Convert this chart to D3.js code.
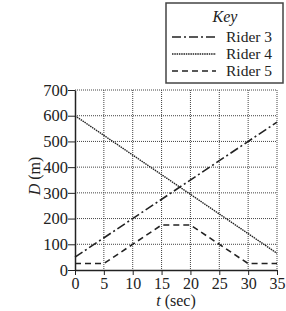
<!DOCTYPE html>
<html>
<head>
<meta charset="utf-8">
<script src="https://cdn.jsdelivr.net/npm/d3@7"></script>
<style>
  body { margin: 0; background: #fff; }
  svg text { font-family: "Liberation Serif", "DejaVu Serif", serif; fill: #222; }
  .axis path, .axis line { stroke: #222; }
  .grid line { stroke: #444; stroke-dasharray: 1,1; stroke-width: 1; }
</style>
</head>
<body>
<div id="chart"></div>
<script>
// rider positions, t in sec, D in m
var rider3 = [[0, 50], [35, 575]];
var rider4 = [[0, 600], [35, 65]];
var rider5 = [[0, 25], [5, 25], [15, 175], [20, 175], [30, 25], [35, 25]];
var xTicks = [0, 5, 10, 15, 20, 25, 30, 35];
var yTicks = [0, 100, 200, 300, 400, 500, 600, 700];
var keyNames = ["Rider 3", "Rider 4", "Rider 5"];

var W = 286, H = 311;
var margin = {top: 90, right: 9, bottom: 41, left: 75};
var w = W - margin.left - margin.right,
    h = H - margin.top - margin.bottom;

var svg = d3.select("#chart").append("svg")
    .attr("width", W)
    .attr("height", H);

var g = svg.append("g").attr("transform", "translate(" + margin.left + "," + margin.top + ")");

var x = d3.scaleLinear().domain([0, 35]).range([0, w]);
var y = d3.scaleLinear().domain([0, 700]).range([h, 0]);

// dotted grid
var grid = g.append("g").attr("class", "grid");
grid.selectAll("line.v").data(xTicks.slice(1)).enter().append("line")
    .attr("class", "v")
    .attr("x1", d => x(d)).attr("x2", d => x(d))
    .attr("y1", 0).attr("y2", h);
grid.selectAll("line.h").data(yTicks.slice(1)).enter().append("line")
    .attr("class", "h")
    .attr("x1", 0).attr("x2", w)
    .attr("y1", d => y(d)).attr("y2", d => y(d));

g.append("g")
    .attr("class", "axis")
    .attr("transform", "translate(0," + h + ")")
    .call(d3.axisBottom(x).tickValues(xTicks).tickSize(5).tickSizeOuter(0).tickPadding(3))
    .call(s => s.selectAll("text").attr("font-size", 16))
    .call(s => s.select(".domain").attr("stroke-width", 1.5));

g.append("g")
    .attr("class", "axis")
    .call(d3.axisLeft(y).tickValues(yTicks).tickSize(7).tickSizeOuter(0).tickPadding(0))
    .call(s => s.selectAll("text").attr("font-size", 16.5))
    .call(s => s.select(".domain").attr("stroke-width", 1.5));

var line = d3.line().x(d => x(d[0])).y(d => y(d[1]));

var styles = [
  {data: rider3, dash: "9,3,2,3", width: 1.6},
  {data: rider4, dash: "1.5,0.8", width: 1.4},
  {data: rider5, dash: "6,4", width: 1.6}
];

g.selectAll("path.rider").data(styles).enter().append("path")
    .attr("class", "rider")
    .attr("d", d => line(d.data))
    .attr("fill", "none")
    .attr("stroke", "#222")
    .attr("stroke-width", d => d.width)
    .attr("stroke-dasharray", d => d.dash);

// axis titles
svg.append("text")
    .attr("transform", "translate(40,176) rotate(-90)")
    .attr("text-anchor", "middle")
    .attr("font-size", 16)
    .html('<tspan font-style="italic">D</tspan> (m)');

svg.append("text")
    .attr("x", margin.left + w / 2)
    .attr("y", 306)
    .attr("text-anchor", "middle")
    .attr("font-size", 16)
    .html('<tspan font-style="italic">t</tspan> (sec)');

// key box
var key = svg.append("g");
key.append("rect")
    .attr("x", 166).attr("y", 3)
    .attr("width", 117).attr("height", 80)
    .attr("fill", "#fff")
    .attr("stroke", "#444")
    .attr("stroke-width", 1.5);

key.append("text")
    .attr("x", 225).attr("y", 22)
    .attr("text-anchor", "middle")
    .attr("font-size", 16)
    .attr("font-style", "italic")
    .text("Key");

var keyRow = key.selectAll("g.row").data(styles).enter().append("g")
    .attr("class", "row")
    .attr("transform", (d, i) => "translate(0," + (37 + i * 17) + ")");

keyRow.append("line")
    .attr("x1", 172).attr("x2", 216)
    .attr("y1", 0).attr("y2", 0)
    .attr("stroke", "#222")
    .attr("stroke-width", d => d.width)
    .attr("stroke-dasharray", d => d.dash);

keyRow.append("text")
    .attr("x", 226).attr("y", 5)
    .attr("font-size", 15.5)
    .text((d, i) => keyNames[i]);
</script>
</body>
</html>
